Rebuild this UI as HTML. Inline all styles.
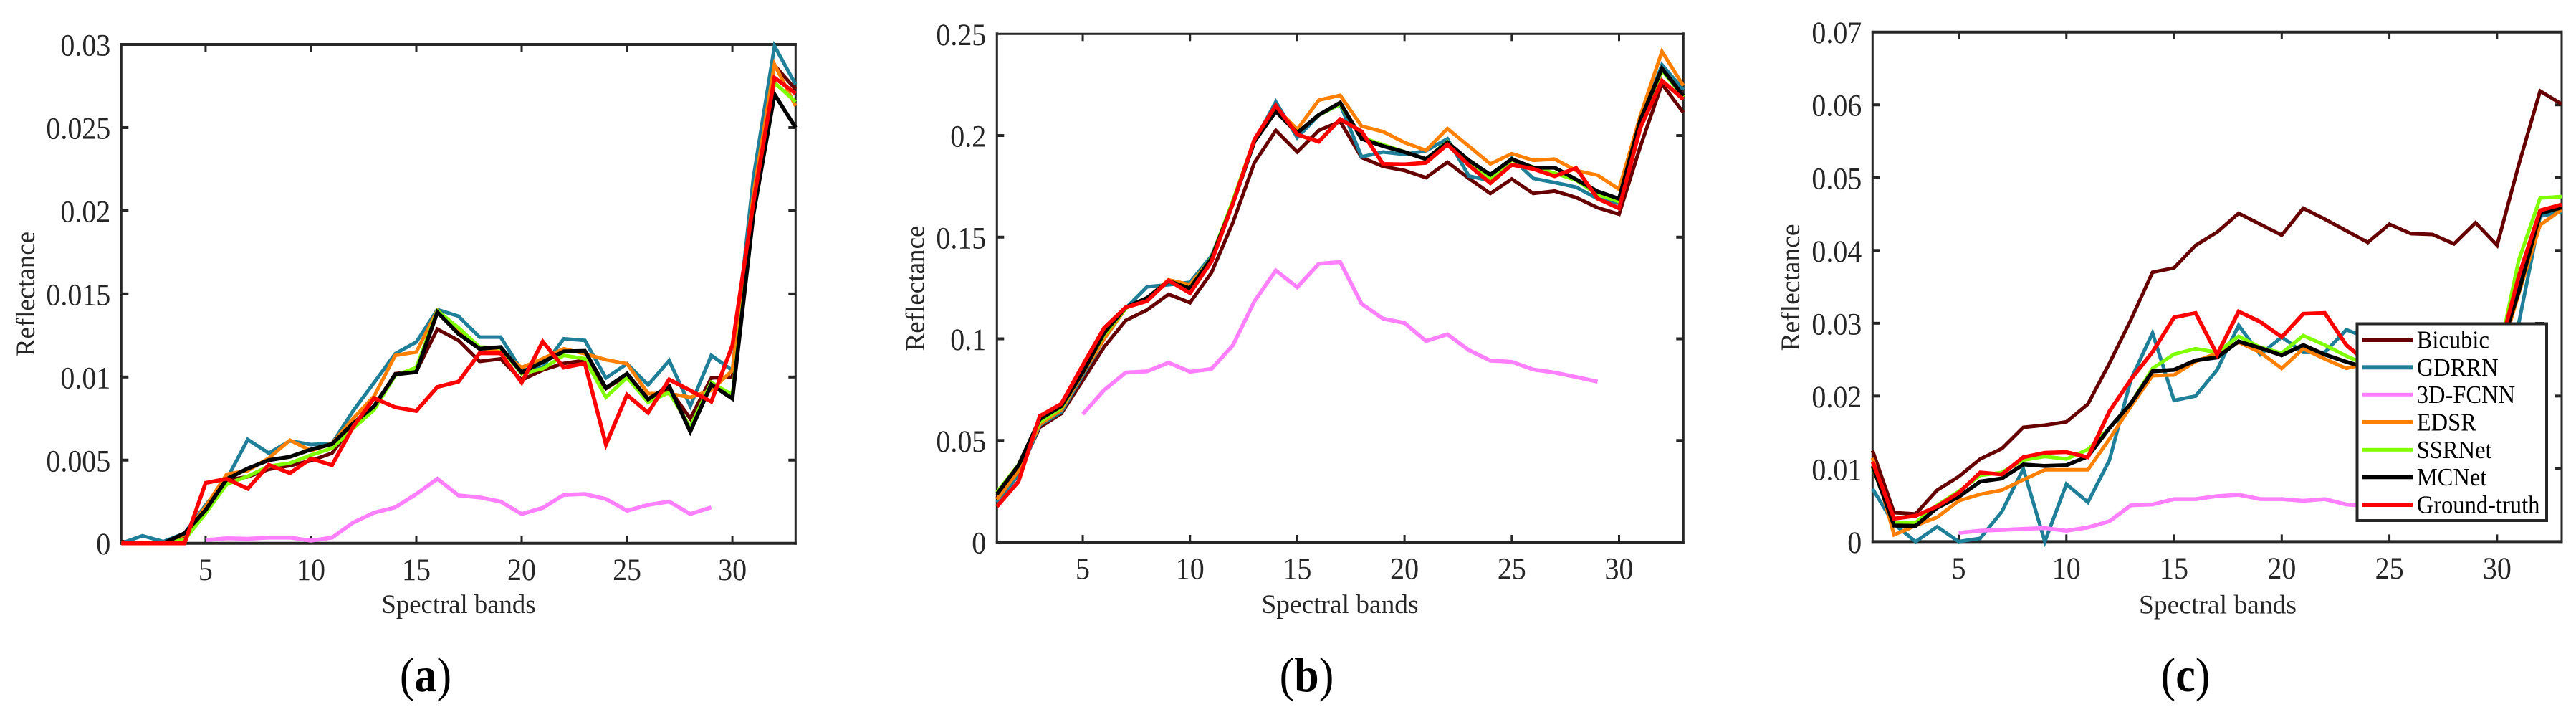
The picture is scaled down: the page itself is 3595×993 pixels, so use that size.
<!DOCTYPE html>
<html lang="en">
<head>
<meta charset="utf-8">
<title>Spectral reflectance curves</title>
<style>
html,body{margin:0;padding:0;background:#fff;}
svg{display:block;}
text{font-family:"Liberation Serif","Times New Roman",serif;}
</style>
</head>
<body>
<svg id="figure" xmlns="http://www.w3.org/2000/svg" width="3595" height="993" viewBox="0 0 3595 993">
  <rect x="0" y="0" width="3595" height="993" fill="#ffffff"/>
  <g id="plot-a"></g>
  <g id="plot-b"></g>
  <g id="plot-c"></g>

  <g fill="#262626" font-size="36.7">
    <text transform="translate(48,410) rotate(-90)" text-anchor="middle" textLength="174" lengthAdjust="spacingAndGlyphs">Reflectance</text>
    <text transform="translate(1289.5,402) rotate(-90)" text-anchor="middle" textLength="175" lengthAdjust="spacingAndGlyphs">Reflectance</text>
    <text transform="translate(2511,401) rotate(-90)" text-anchor="middle" textLength="177" lengthAdjust="spacingAndGlyphs">Reflectance</text>
    <text x="640" y="855" text-anchor="middle" textLength="215" lengthAdjust="spacingAndGlyphs">Spectral bands</text>
    <text x="1870" y="855" text-anchor="middle" textLength="219" lengthAdjust="spacingAndGlyphs">Spectral bands</text>
    <text x="3095" y="855.5" text-anchor="middle" textLength="220" lengthAdjust="spacingAndGlyphs">Spectral bands</text>
  </g>

  <g fill="#000000" font-size="68" text-anchor="middle">
    <text transform="translate(594,964) scale(0.91,1)">(<tspan font-weight="bold">a</tspan>)</text>
    <text transform="translate(1823.5,964) scale(0.91,1)">(<tspan font-weight="bold">b</tspan>)</text>
    <text transform="translate(3050,964) scale(0.91,1)">(<tspan font-weight="bold">c</tspan>)</text>
  </g>

  <g id="legend">
    <rect x="3538" y="449" width="13" height="3" fill="#262626"/>
    <rect x="3289.5" y="451.5" width="264.5" height="274.5" fill="#ffffff" stroke="#262626" stroke-width="4"/>
    <g>
      <rect x="3296.5" y="471" width="70.5" height="6" fill="#660000"/>
      <text transform="translate(3372.7,485.7) scale(0.93,1)" font-size="35" fill="#000">Bicubic</text>
    </g>
    <g>
      <rect x="3296.5" y="509.3" width="70.5" height="6" fill="#1f7f99"/>
      <text transform="translate(3372.7,524) scale(0.93,1)" font-size="35" fill="#000">GDRRN</text>
    </g>
    <g>
      <rect x="3296.5" y="547.8" width="70.5" height="5" fill="#ff80ff"/>
      <text transform="translate(3372.7,562) scale(0.93,1)" font-size="35" fill="#000">3D-FCNN</text>
    </g>
    <g>
      <rect x="3296.5" y="586" width="70.5" height="6" fill="#ff8000"/>
      <text transform="translate(3372.7,600.7) scale(0.93,1)" font-size="35" fill="#000">EDSR</text>
    </g>
    <g>
      <rect x="3296.5" y="624.8" width="70.5" height="5" fill="#80ff00"/>
      <text transform="translate(3372.7,639) scale(0.93,1)" font-size="35" fill="#000">SSRNet</text>
    </g>
    <g>
      <rect x="3296.5" y="662.3" width="70.5" height="6" fill="#000000"/>
      <text transform="translate(3372.7,677) scale(0.93,1)" font-size="35" fill="#000">MCNet</text>
    </g>
    <g>
      <rect x="3296.5" y="701" width="70.5" height="6" fill="#ff0000"/>
      <text transform="translate(3372.7,715.7) scale(0.93,1)" font-size="35" fill="#000">Ground-truth</text>
    </g>
  </g>
</svg>

<script>
/* shared categories and tick labels */
const bands = [1,2,3,4,5,6,7,8,9,10,11,12,13,14,15,16,17,18,19,20,21,22,23,24,25,26,27,28,29,30,31,32,33];
const xTickValues = [5,10,15,20,25,30];
const xTickLabels = ['5','10','15','20','25','30'];

/* chart (a) */
const aYTickValues = [0,0.005,0.01,0.015,0.02,0.025,0.03];
const aYTickLabels = ['0','0.005','0.01','0.015','0.02','0.025','0.03'];
const aBicubic = [0.0001,0,0,0.0003,0.0019,0.0038,0.0040,0.00445,0.00467,0.00497,0.00542,0.00713,0.00818,0.0102,0.01034,0.01288,0.0122,0.01094,0.01109,0.00982,0.01042,0.01082,0.0110,0.0093,0.01012,0.0087,0.0093,0.0075,0.00994,0.0100,0.021,0.02875,0.0273];
const aGDRRN = [0,0.00045,0.0001,0.0006,0.0023,0.00385,0.00624,0.00542,0.00616,0.00594,0.0060,0.00796,0.00967,0.0114,0.0121,0.01405,0.01366,0.0124,0.0124,0.0104,0.0106,0.0123,0.0122,0.00994,0.0108,0.00952,0.01099,0.00825,0.0113,0.0104,0.022,0.0299,0.0276];
const aFCNN = [null,null,null,null,0.00019,0.0003,0.00027,0.00034,0.00034,0.00016,0.00034,0.00124,0.00184,0.00216,0.00296,0.00388,0.00288,0.00276,0.00251,0.00176,0.00213,0.00291,0.00296,0.00266,0.00196,0.00231,0.00251,0.00176,0.00216,null,null,null,null];
const aEDSR = [0,0,0,0.0005,0.0022,0.00415,0.00437,0.00512,0.0062,0.00557,0.0060,0.0075,0.00885,0.0113,0.0115,0.0140,0.0129,0.01176,0.0115,0.01057,0.0111,0.0117,0.0114,0.01104,0.0108,0.0090,0.0090,0.00878,0.0092,0.0104,0.021,0.0288,0.0263];
const aSSRNet = [0,0,0,0.0002,0.0018,0.00355,0.00403,0.00463,0.00482,0.0053,0.00572,0.0069,0.00803,0.01009,0.01057,0.01398,0.01297,0.0118,0.01175,0.0102,0.0105,0.0113,0.0111,0.00878,0.00997,0.00848,0.00907,0.00699,0.00967,0.00893,0.020,0.0277,0.02655];
const aMCNet = [0,0,0,0.0006,0.0020,0.00385,0.0045,0.0050,0.0052,0.00564,0.00597,0.0072,0.00825,0.01016,0.0103,0.0139,0.0126,0.0117,0.0118,0.01027,0.0109,0.01154,0.01157,0.00934,0.0102,0.00866,0.00945,0.00672,0.00955,0.0087,0.0198,0.0270,0.0250];
const aTruth = [0,0,0,0,0.00363,0.00388,0.00328,0.00472,0.00422,0.00509,0.0047,0.0070,0.00873,0.00818,0.00796,0.0094,0.00972,0.01143,0.01143,0.00967,0.01213,0.01057,0.01082,0.00594,0.00893,0.00785,0.00985,0.00919,0.00852,0.0119,0.0205,0.0280,0.02705];

/* chart (b) */
const bYTickValues = [0,0.05,0.1,0.15,0.2,0.25];
const bYTickLabels = ['0','0.05','0.1','0.15','0.2','0.25'];
const bBicubic = [0.0215,0.034,0.0565,0.0632,0.0795,0.096,0.109,0.1142,0.1219,0.1178,0.1325,0.1572,0.1866,0.2025,0.1919,0.2025,0.2069,0.1892,0.1848,0.1828,0.1793,0.1869,0.1789,0.1715,0.1786,0.1715,0.1727,0.1695,0.1645,0.1613,0.1948,0.2254,0.2113];
const bGDRRN = [0.0195,0.033,0.0575,0.064,0.082,0.1,0.115,0.1256,0.1266,0.1278,0.1407,0.167,0.197,0.2166,0.199,0.21,0.2154,0.1895,0.1919,0.1907,0.1925,0.1984,0.1801,0.1778,0.1889,0.1789,0.1769,0.1746,0.1689,0.1666,0.2066,0.2348,0.2225];
const bFCNN = [null,null,null,null,0.0629,0.0748,0.0834,0.084,0.0883,0.0838,0.0852,0.0968,0.1184,0.1336,0.1254,0.1369,0.1378,0.1172,0.1099,0.1078,0.0989,0.1022,0.0944,0.0893,0.0887,0.0849,0.0834,0.0812,0.0789,null,null,null,null];
const bEDSR = [0.021,0.035,0.058,0.065,0.083,0.1,0.115,0.12,0.129,0.1266,0.1395,0.1678,0.197,0.2136,0.203,0.2174,0.2198,0.2046,0.2019,0.1966,0.1927,0.2034,0.1948,0.186,0.1911,0.1878,0.1884,0.1828,0.1805,0.1736,0.21,0.2413,0.2245];
const bSSRNet = [0.0245,0.038,0.059,0.066,0.084,0.102,0.115,0.12,0.1285,0.125,0.14,0.168,0.198,0.212,0.2015,0.21,0.2155,0.199,0.1955,0.192,0.1885,0.197,0.187,0.179,0.188,0.1845,0.1815,0.178,0.171,0.1675,0.205,0.232,0.219];
const bMCNet = [0.0236,0.0376,0.0605,0.0669,0.0835,0.103,0.1154,0.1201,0.1284,0.1248,0.1395,0.1666,0.197,0.2119,0.2013,0.2101,0.2162,0.1984,0.1948,0.1919,0.1884,0.1966,0.1878,0.1807,0.1884,0.1842,0.1842,0.1784,0.1725,0.1689,0.2078,0.233,0.2195];
const bTruth = [0.0175,0.0297,0.062,0.068,0.087,0.1054,0.1154,0.1186,0.1287,0.1225,0.138,0.1666,0.198,0.2148,0.2005,0.197,0.208,0.202,0.186,0.1858,0.1866,0.1956,0.1854,0.1766,0.1856,0.1836,0.18,0.184,0.169,0.1642,0.204,0.227,0.2178];

/* chart (c) */
const cYTickValues = [0,0.01,0.02,0.03,0.04,0.05,0.06,0.07];
const cYTickLabels = ['0','0.01','0.02','0.03','0.04','0.05','0.06','0.07'];
const cBicubic = [0.0125,0.00398,0.0038,0.00707,0.00893,0.01135,0.01277,0.0157,0.016,0.01645,0.0189,0.0245,0.0305,0.037,0.0376,0.0407,0.0425,0.0451,0.0436,0.0421,0.0458,0.0443,0.0427,0.0411,0.0436,0.0423,0.0422,0.0409,0.0438,0.0407,0.0517,0.0619,0.0601];
const cGDRRN = [0.00726,0.0024,0,0.00205,0,0.00045,0.0041,0.01,0,0.0079,0.0054,0.0112,0.0223,0.02865,0.0194,0.02,0.0236,0.0297,0.0257,0.0281,0.026,0.026,0.0291,0.028,0.026,0.025,0.025,0.025,0.024,0.024,0.0299,0.0447,0.0453];
const cFCNN = [null,null,null,null,0.0012,0.0015,0.0016,0.00175,0.00186,0.0015,0.00194,0.0028,0.005,0.0051,0.00584,0.00584,0.00625,0.00644,0.00584,0.00584,0.0056,0.00584,0.0051,0.0049,0.005,0.0052,0.005,0.0048,0.005,null,null,null,null];
const cEDSR = [0.0115,0.00093,0.0022,0.00335,0.0056,0.0065,0.00707,0.0085,0.00986,0.00986,0.00986,0.0141,0.0186,0.0228,0.0229,0.02475,0.0259,0.0274,0.026,0.0238,0.0265,0.0251,0.0238,0.0245,0.025,0.025,0.025,0.0245,0.024,0.024,0.034,0.0435,0.0456];
const cSSRNet = [0.0102,0.0026,0.0026,0.005,0.0069,0.0091,0.0095,0.0112,0.0117,0.01135,0.01265,0.0156,0.019,0.0238,0.02575,0.0265,0.026,0.0282,0.0267,0.0259,0.0283,0.027,0.0255,0.0242,0.025,0.025,0.025,0.025,0.0245,0.0245,0.0386,0.0472,0.0474];
const cMCNet = [0.0104,0.0022,0.00216,0.00465,0.00614,0.00826,0.00867,0.0106,0.0104,0.0105,0.0117,0.0156,0.019,0.0234,0.0236,0.0249,0.0253,0.0275,0.0266,0.0256,0.027,0.0257,0.0247,0.0238,0.025,0.025,0.025,0.025,0.0245,0.025,0.0343,0.0451,0.0459];
const cTruth = [0.011,0.00316,0.00354,0.00484,0.0067,0.0095,0.00923,0.0116,0.0122,0.0123,0.0116,0.0179,0.0223,0.02605,0.0308,0.0314,0.0257,0.0316,0.0302,0.0281,0.0313,0.0314,0.027,0.0245,0.025,0.025,0.025,0.0245,0.024,0.025,0.0364,0.0455,0.0463];

const SVG_NS = 'http://www.w3.org/2000/svg';
const AXIS_COLOR = '#262626';

function appendLine(parent, name, x1, y1, x2, y2, width) {
  const el = document.createElementNS(SVG_NS, 'line');
  
  
  el.setAttribute('x1', x1);
  el.setAttribute('y1', y1);
  el.setAttribute('x2', x2);
  el.setAttribute('y2', y2);
  el.setAttribute('stroke', AXIS_COLOR);
  el.setAttribute('stroke-width', width);
  parent.appendChild(el);
}

function appendTickLabel(parent, name, x, y, label, anchor) {
  const el = document.createElementNS(SVG_NS, 'text');
  
  
  el.setAttribute('transform', 'translate(' + x + ',' + y + ') scale(0.93,1)');
  el.setAttribute('font-size', '43');
  el.setAttribute('fill', AXIS_COLOR);
  el.setAttribute('text-anchor', anchor);
  el.textContent = label;
  parent.appendChild(el);
}

function appendSeries(parent, name, values, color, width, xOf, yOf) {
  let points = [];
  values.forEach(function (value, i) {
    if (value !== null) {
      points.push(xOf(bands[i]).toFixed(2) + ',' + yOf(value).toFixed(2));
    }
  });
  const el = document.createElementNS(SVG_NS, 'polyline');
  
  
  el.setAttribute('points', points.join(' '));
  el.setAttribute('fill', 'none');
  el.setAttribute('stroke', color);
  el.setAttribute('stroke-width', width);
  el.setAttribute('stroke-linejoin', 'miter');
  el.setAttribute('stroke-miterlimit', '8');
  parent.appendChild(el);
}

function drawChart(rootId, left, right, top, bottom, yMax, yTickValues, yTickLabels, topWidth, skipRightTick, series) {
  const root = document.getElementById(rootId);
  const xOf = function (band) { return left + (band - 1) / 32 * (right - left); };
  const yOf = function (value) { return bottom - value / yMax * (bottom - top); };

  appendLine(root, 'y-axis-left', left, top - 2, left, bottom + 2, 3);
  appendLine(root, 'y-axis-right', right, top - 2, right, bottom + 2, 3);
  appendLine(root, 'x-axis-top', left - 1.5, top, right + 1.5, top, topWidth);
  appendLine(root, 'x-axis-bottom', left - 1.5, bottom, right + 1.5, bottom, 4);

  xTickValues.forEach(function (value, i) {
    const x = xOf(value);
    appendLine(root, 'x-tick-bottom-' + xTickLabels[i], x, bottom, x, bottom - 10, 3);
    appendLine(root, 'x-tick-top-' + xTickLabels[i], x, top, x, top + 10, 3);
    appendTickLabel(root, 'x-tick-label-' + xTickLabels[i], x, bottom + 51.5, xTickLabels[i], 'middle');
  });

  yTickValues.forEach(function (value, i) {
    const y = yOf(value);
    if (i > 0 && i < yTickValues.length - 1) {
      appendLine(root, 'y-tick-left-' + yTickLabels[i], left, y, left + 10, y, 4);
      if (value !== skipRightTick) {
        appendLine(root, 'y-tick-right-' + yTickLabels[i], right, y, right - 10, y, 4);
      }
    }
    appendTickLabel(root, 'y-tick-label-' + yTickLabels[i], left - 15, y + 15.5, yTickLabels[i], 'end');
  });

  series.forEach(function (s) {
    appendSeries(root, s[0], s[1], s[2], s[3], xOf, yOf);
  });
}

drawChart('plot-a', 169.3, 1110.3, 62, 757.7, 0.03, aYTickValues, aYTickLabels, 4, null, [
  ['series-bicubic-a', aBicubic, '#660000', 5],
  ['series-gdrrn-a', aGDRRN, '#1f7f99', 5],
  ['series-3d-fcnn-a', aFCNN, '#ff80ff', 5.5],
  ['series-edsr-a', aEDSR, '#ff8000', 5],
  ['series-ssrnet-a', aSSRNet, '#80ff00', 5],
  ['series-mcnet-a', aMCNet, '#000000', 5.5],
  ['series-ground-truth-a', aTruth, '#ff0000', 5.5]
]);

drawChart('plot-b', 1391.3, 2349.3, 47.3, 756, 0.25, bYTickValues, bYTickLabels, 3, null, [
  ['series-bicubic-b', bBicubic, '#660000', 5],
  ['series-gdrrn-b', bGDRRN, '#1f7f99', 5],
  ['series-3d-fcnn-b', bFCNN, '#ff80ff', 5.5],
  ['series-edsr-b', bEDSR, '#ff8000', 5],
  ['series-ssrnet-b', bSSRNet, '#80ff00', 5],
  ['series-mcnet-b', bMCNet, '#000000', 5.5],
  ['series-ground-truth-b', bTruth, '#ff0000', 5.5]
]);

drawChart('plot-c', 2613.3, 3575, 44.7, 755.4, 0.07, cYTickValues, cYTickLabels, 4, 0.03, [
  ['series-bicubic-c', cBicubic, '#660000', 5],
  ['series-gdrrn-c', cGDRRN, '#1f7f99', 5],
  ['series-3d-fcnn-c', cFCNN, '#ff80ff', 5.5],
  ['series-edsr-c', cEDSR, '#ff8000', 5],
  ['series-ssrnet-c', cSSRNet, '#80ff00', 5],
  ['series-mcnet-c', cMCNet, '#000000', 5.5],
  ['series-ground-truth-c', cTruth, '#ff0000', 5.5]
]);

/* keep the legend painted above all three plots */
const figure = document.getElementById('figure');
figure.appendChild(document.getElementById('legend'));
</script>
</body>
</html>
